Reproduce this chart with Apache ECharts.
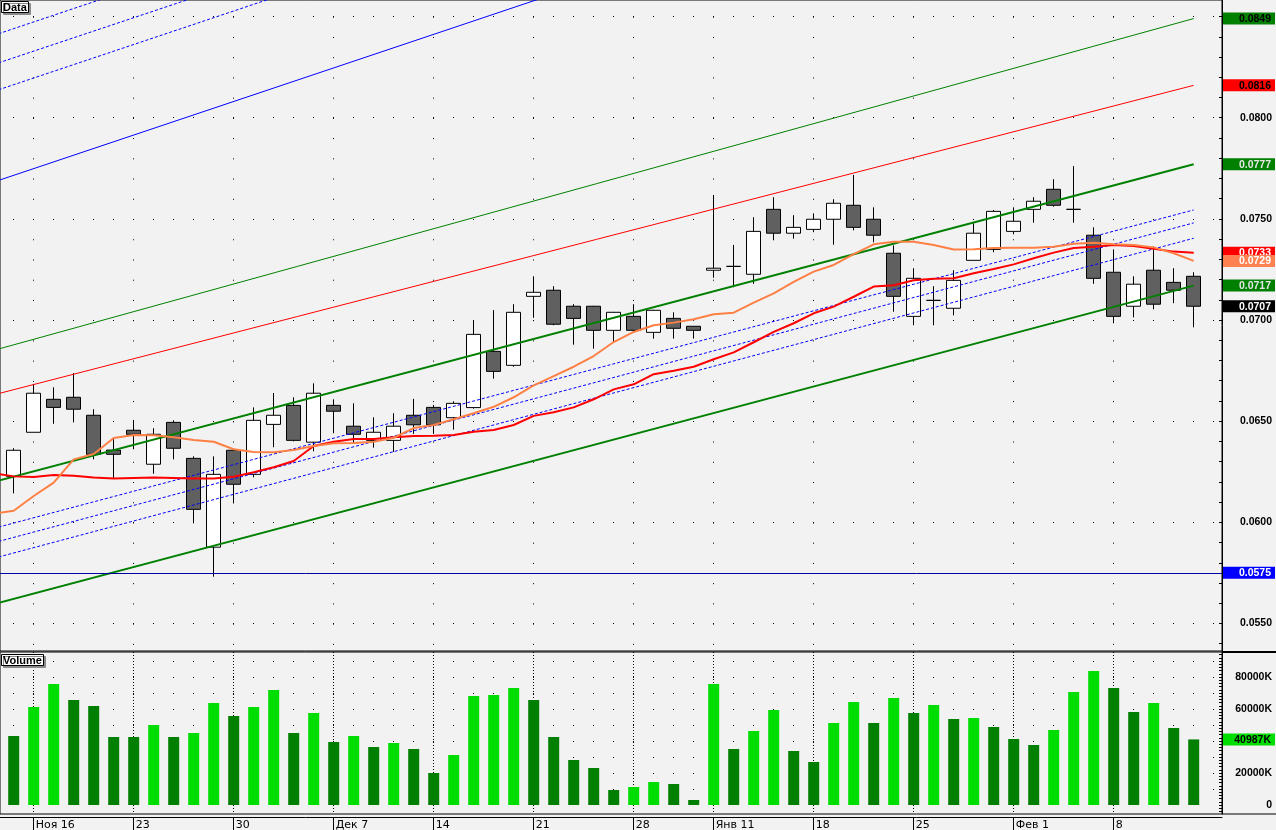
<!DOCTYPE html>
<html><head><meta charset="utf-8">
<script src="https://cdn.jsdelivr.net/npm/echarts@6/dist/echarts.min.js"></script>
<style>html,body{margin:0;padding:0;background:#f2f2f2;overflow:hidden}#c{width:1276px;height:830px}</style>
</head><body><div id="c"></div>
<script>
// ---- data (prices per candle, index 0..59) ----
const opens  = [0.06227,0.06445,0.06608,0.06618,0.06529,0.06357,0.06455,0.06287,0.06494,0.06316,0.05877,0.06356,0.06237,0.06484,0.06578,0.06396,0.06578,0.06475,0.06405,0.06405,0.06529,0.06568,0.06517,0.06567,0.06845,0.06776,0.07117,0.07147,0.07068,0.07068,0.06949,0.07018,0.06939,0.07008,0.06969,0.07246,0.07265,0.07226,0.07547,0.07429,0.07448,0.07498,0.07567,0.07498,0.07330,0.07018,0.07097,0.07058,0.07295,0.07349,0.07438,0.07547,0.07646,0.07547,0.07419,0.07236,0.07068,0.07246,0.07186,0.07216];
const closes = [0.06356,0.06638,0.06568,0.06559,0.06336,0.06336,0.06435,0.06435,0.06366,0.06064,0.06237,0.06188,0.06504,0.06529,0.06405,0.06638,0.06549,0.06435,0.06445,0.06475,0.06482,0.06482,0.06588,0.06929,0.06746,0.07038,0.07137,0.06979,0.07008,0.06949,0.07038,0.06949,0.07048,0.06959,0.06949,0.07256,0.07265,0.07438,0.07429,0.07458,0.07498,0.07577,0.07458,0.07419,0.07117,0.07206,0.07097,0.07196,0.07429,0.07537,0.07488,0.07587,0.07567,0.07547,0.07206,0.07018,0.07177,0.07078,0.07147,0.07068];
const lows   = [0.06143,0.06445,0.06487,0.06494,0.06311,0.06214,0.06361,0.06240,0.06311,0.05995,0.05731,0.06094,0.06222,0.06371,0.06400,0.06351,0.06440,0.06391,0.06369,0.06348,0.06437,0.06437,0.06458,0.06562,0.06710,0.06769,0.07011,0.06974,0.06878,0.06858,0.06890,0.06939,0.06908,0.06908,0.06908,0.07209,0.07162,0.07179,0.07394,0.07402,0.07434,0.07372,0.07443,0.07384,0.07041,0.06974,0.06974,0.07023,0.07295,0.07335,0.07424,0.07481,0.07560,0.07481,0.07179,0.06984,0.07013,0.07053,0.07083,0.06964];
const highs  = [0.06366,0.06684,0.06667,0.06737,0.06559,0.06420,0.06506,0.06465,0.06504,0.06326,0.06326,0.06366,0.06568,0.06639,0.06618,0.06687,0.06608,0.06588,0.06519,0.06539,0.06610,0.06580,0.06598,0.06999,0.07049,0.07078,0.07216,0.07167,0.07078,0.07070,0.07040,0.07078,0.07050,0.07038,0.06970,0.07618,0.07371,0.07508,0.07607,0.07518,0.07527,0.07597,0.07717,0.07557,0.07369,0.07256,0.07167,0.07246,0.07478,0.07544,0.07557,0.07607,0.07696,0.07761,0.07458,0.07349,0.07216,0.07364,0.07256,0.07236];
// volume in thousands (K)
const volumes = [43125,61250,75625,65625,61875,42500,42500,50000,42500,45000,63750,55625,61250,71875,45000,57500,39375,43125,36250,38750,35000,20000,31250,68125,68750,73125,65625,42500,28125,23125,9375,11250,14375,13125,3125,75625,35000,46250,59375,33750,26875,51250,64375,51250,66875,57500,62500,53750,54375,48750,41250,37500,46875,70625,83750,73125,58125,63750,48125,40987];
// moving averages, first value belongs to index -1 (just before the first candle)
const maStartIndex = -1;
const maRed    = [0.06242,0.06227,0.06224,0.06234,0.06230,0.06221,0.06216,0.06219,0.06221,0.06219,0.06216,0.06216,0.06225,0.06247,0.06272,0.06303,0.06377,0.06398,0.06412,0.06412,0.06420,0.06427,0.06428,0.06432,0.06448,0.06456,0.06481,0.06526,0.06544,0.06568,0.06608,0.06657,0.06682,0.06732,0.06749,0.06769,0.06806,0.06840,0.06890,0.06941,0.06984,0.07033,0.07066,0.07115,0.07165,0.07172,0.07196,0.07204,0.07206,0.07231,0.07252,0.07275,0.07305,0.07333,0.07356,0.07362,0.07371,0.07366,0.07352,0.07338,0.07333];
const maOrange = [0.06043,0.06057,0.06130,0.06196,0.06311,0.06338,0.06417,0.06432,0.06430,0.06420,0.06407,0.06398,0.06361,0.06348,0.06346,0.06357,0.06377,0.06391,0.06392,0.06398,0.06418,0.06466,0.06481,0.06509,0.06539,0.06571,0.06618,0.06677,0.06723,0.06769,0.06822,0.06891,0.06941,0.06974,0.06987,0.07004,0.07028,0.07036,0.07086,0.07132,0.07188,0.07239,0.07272,0.07326,0.07374,0.07387,0.07387,0.07371,0.07348,0.07350,0.07356,0.07357,0.07357,0.07362,0.07377,0.07382,0.07374,0.07371,0.07359,0.07330,0.07292];
// trend lines: value at index -1 and at index 59
const trendIndex   = [-1, 59];
const outerGreen   = [0.0685, 0.0849];
const outerRed     = [0.0663, 0.0816];
const chanUpper    = [0.0620, 0.0777];
const chanLower    = [0.05595, 0.0717];
const midBlue1     = [0.05970, 0.07544];
const midBlue2     = [0.05899, 0.07480];
const midBlue3     = [0.05822, 0.07404];
const topBlueSolid = [0.07682, 0.09673];
const topBlue1     = [0.08130, 0.10117];
const topBlue2     = [0.08263, 0.10245];
const topBlue3     = [0.08407, 0.10397];
const supportLevel = 0.0575;
// axis ticks / labels
const weekTickIndex  = [1,6,11,16,21,26,31,35,40,45,50,55];
const weekTickLabels = ['Ноя 16','23','30','Дек 7','14','21','28','Янв 11','18','25','Фев 1','8'];
const priceLabels  = [0.055,0.060,0.065,0.070,0.075,0.080];
const priceGrid    = [0.055,0.060,0.065,0.070,0.075,0.080,0.085];
const volumeLabels = [0,20000,60000,80000];
const volumeGrid   = [10000,20000,30000,40000,50000,60000,70000,80000,90000];

// ---- chart ----
const FONT = 'Liberation Sans';
const X_MIN = -0.685, X_MAX = 60.415;
const P_MIN = 0.053638, P_MAX = 0.085818;
const V_MIN = -5625, V_MAX = 95625;
const priceTicks = []; for (let k = 54; k <= 85; k++) priceTicks.push(k / 1000);
const volTicks = []; for (let v = -4000; v <= 94000; v += 2000) volTicks.push(v);
const labelMap = {}; weekTickIndex.forEach((k, j) => labelMap[k] = weekTickLabels[j]);

function labelItem(value, text, bg, fg, lineColor) {
  return {
    yAxis: value,
    lineStyle: lineColor ? {color: lineColor, width: 1, type: 'solid'} : {color: 'rgba(0,0,0,0)', width: 1, type: 'solid'},
    label: {show: true, position: 'end', distance: 1, formatter: '{v|' + text + '}',
      backgroundColor: bg, padding: [1, 4, 0, 1],
      rich: {v: {width: 47, align: 'right', color: fg, fontFamily: FONT, fontWeight: 'bold', fontSize: 10.5, lineHeight: 11}}}
  };
}
function marks(items) {
  return {silent: true, symbol: 'none', animation: false, precision: 8, emphasis: {disabled: true}, data: items};
}
function trend(vals, color, width, type, label) {
  const s = {type: 'line', xAxisIndex: 0, yAxisIndex: 0, data: trendIndex.map((x, k) => [x, vals[k]]),
    symbol: 'none', silent: true, clip: true, z: 4, lineStyle: {color: color, width: width, type: type}};
  if (label) s.markLine = marks([labelItem(vals[1], vals[1].toFixed(4), label.bg, label.fg)]);
  return s;
}
const maData = arr => arr.map((v, k) => [k + maStartIndex, v]);
const candleData = opens.map((o, i) => [i, o, closes[i], lows[i], highs[i]]);
const volData = volumes.map((v, i) => ({value: [i, v],
  itemStyle: {color: (i > 0 && v > volumes[i - 1]) ? '#00dd00' : '#007f00'}}));
const lastVol = volumes[volumes.length - 1];
const lastClose = closes[closes.length - 1];
const lastRed = maRed[maRed.length - 1], lastOrange = maOrange[maOrange.length - 1];

const titleBox = (text, top) => ({text: text, left: 1, top: top, padding: [1, 2, 0, 2],
  backgroundColor: '#fff', borderColor: '#000', borderWidth: 1,
  shadowColor: '#8a8a8a', shadowOffsetX: 2, shadowOffsetY: 2, shadowBlur: 0.01,
  textStyle: {fontFamily: FONT, fontWeight: 'bold', fontSize: 11, color: '#000', lineHeight: 11}});

const chart = echarts.init(document.getElementById('c'), null, {renderer: 'canvas'});
chart.setOption({
  animation: false,
  backgroundColor: '#f2f2f2',
  title: [titleBox('Data', 1), titleBox('Volume', 654)],
  grid: [
    {left: 0, top: 0, width: 1222, height: 651, show: true, borderColor: '#000', borderWidth: 1, backgroundColor: 'transparent', outerBoundsMode: 'none'},
    {left: 0, top: 652, width: 1222, height: 162, show: true, borderColor: '#000', borderWidth: 1, backgroundColor: 'transparent', outerBoundsMode: 'none'}
  ],
  xAxis: [
    {type: 'value', gridIndex: 0, min: X_MIN, max: X_MAX, axisLine: {show: false, onZero: false}, axisLabel: {show: false},
     axisTick: {show: false, customValues: weekTickIndex},
     splitLine: {show: true, lineStyle: {color: '#000', width: 1, type: [1, 19.23], dashOffset: 3.5}}},
    {type: 'value', gridIndex: 1, min: X_MIN, max: X_MAX, position: 'bottom', offset: 3,
     axisLine: {show: true, onZero: false, lineStyle: {color: '#000', width: 1}},
     axisTick: {show: true, inside: false, length: 13, customValues: weekTickIndex, lineStyle: {color: '#000'}},
     axisLabel: {show: true, customValues: weekTickIndex, formatter: v => labelMap[Math.round(v)] || '',
       align: 'left', margin: 3, padding: [0, 0, 0, 2], color: '#000', fontFamily: 'DejaVu Sans', fontSize: 11},
     splitLine: {show: true, lineStyle: {color: '#000', width: 1, type: [1, 2]}}}
  ],
  yAxis: [
    {type: 'value', gridIndex: 0, position: 'right', min: P_MIN, max: P_MAX,
     axisLine: {show: true, onZero: false, lineStyle: {color: '#000', width: 1}},
     axisTick: {show: true, inside: true, length: 3, customValues: priceTicks, lineStyle: {color: '#000'}},
     axisLabel: {show: true, customValues: priceLabels, formatter: v => v.toFixed(4), align: 'right', margin: 50,
       fontFamily: FONT, fontWeight: 'bold', fontSize: 10.5, color: '#000'},
     splitLine: {show: false}},
    {type: 'value', gridIndex: 0, position: 'right', min: P_MIN, max: P_MAX,
     axisLine: {show: false, onZero: false}, axisLabel: {show: false}, axisTick: {show: false, customValues: priceGrid},
     splitLine: {show: true, lineStyle: {color: '#000', width: 1, type: [1, 19], dashOffset: 7}}},
    {type: 'value', gridIndex: 1, position: 'right', min: V_MIN, max: V_MAX,
     axisLine: {show: true, onZero: false, lineStyle: {color: '#000', width: 1}},
     axisTick: {show: true, inside: true, length: 3, customValues: volTicks, lineStyle: {color: '#000'}},
     axisLabel: {show: true, customValues: volumeLabels, formatter: v => v === 0 ? '0' : v + 'K', align: 'right', margin: 50,
       fontFamily: FONT, fontWeight: 'bold', fontSize: 10.5, color: '#000'},
     splitLine: {show: false}},
    {type: 'value', gridIndex: 1, position: 'right', min: V_MIN, max: V_MAX,
     axisLine: {show: false, onZero: false}, axisLabel: {show: false}, axisTick: {show: false, customValues: volumeGrid},
     splitLine: {show: true, lineStyle: {color: '#000', width: 1, type: [1, 19], dashOffset: 7}}}
  ],
  graphic: [
    {type: 'rect', shape: {x: 1222, y: 651, width: 54, height: 2}, style: {fill: '#000'}, silent: true, z: 100},
    {type: 'rect', shape: {x: 1222, y: 813.5, width: 54, height: 1}, style: {fill: '#000'}, silent: true, z: 100}
  ],
  series: [
    {type: 'bar', xAxisIndex: 1, yAxisIndex: 2, data: volData, barWidth: 11, silent: true, z: 3,
     markLine: marks([labelItem(lastVol, lastVol + 'K', '#00dd00', '#000')])},
    {type: 'candlestick', xAxisIndex: 0, yAxisIndex: 0, data: candleData,
     encode: {x: 0, y: [1, 2, 3, 4]}, barWidth: 14, silent: true, z: 3,
     itemStyle: {color: '#ffffff', color0: '#606060', borderColor: '#000', borderColor0: '#000', borderColorDoji: '#000', borderWidth: 1},
     markLine: marks([
       labelItem(supportLevel, supportLevel.toFixed(4), '#0000ff', '#fff', '#00009c'),
       labelItem(lastClose, lastClose.toFixed(4), '#000', '#fff')])},
    trend(topBlueSolid, '#0000ff', 1, 'solid'),
    trend(topBlue1, '#0000ff', 1, [3, 2]),
    trend(topBlue2, '#0000ff', 1, [3, 2]),
    trend(topBlue3, '#0000ff', 1, [3, 2]),
    trend(midBlue1, '#0000ff', 1, [3, 2]),
    trend(midBlue2, '#0000ff', 1, [3, 2]),
    trend(midBlue3, '#0000ff', 1, [3, 2]),
    trend(outerGreen, '#008000', 1, 'solid', {bg: '#008000', fg: '#000'}),
    trend(outerRed, '#ff0000', 1, 'solid', {bg: '#ff0000', fg: '#000'}),
    trend(chanUpper, '#008000', 2, 'solid', {bg: '#008000', fg: '#e6e6e6'}),
    trend(chanLower, '#008000', 2, 'solid', {bg: '#008000', fg: '#e6e6e6'}),
    {type: 'line', xAxisIndex: 0, yAxisIndex: 0, data: maData(maRed), symbol: 'none', silent: true, z: 5,
     lineStyle: {color: '#ff0000', width: 2},
     markLine: marks([labelItem(lastRed, lastRed.toFixed(4), '#ff0000', '#fff')])},
    {type: 'line', xAxisIndex: 0, yAxisIndex: 0, data: maData(maOrange), symbol: 'none', silent: true, z: 5,
     lineStyle: {color: '#ff8045', width: 2},
     markLine: marks([labelItem(lastOrange, lastOrange.toFixed(4), '#ff8050', '#fff')])}
  ]
});
</script></body></html>
